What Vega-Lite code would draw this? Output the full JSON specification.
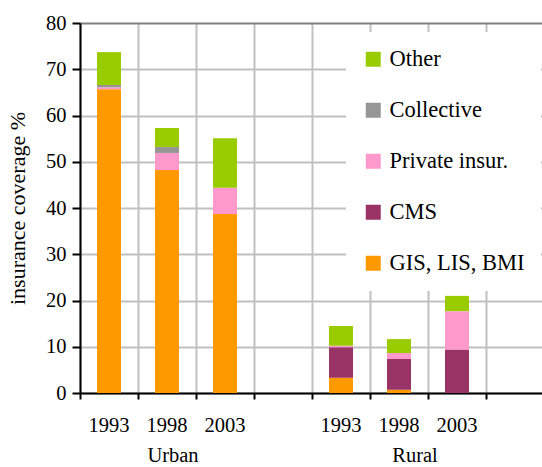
{
  "$schema": "https://vega.github.io/schema/vega-lite/v6.json",
  "autosize": "none",
  "width": 464,
  "height": 370,
  "padding": {"left": 80, "top": 23, "right": 0, "bottom": 74},
  "background": "white",
  "config": {
    "view": {"stroke": null},
    "font": "Liberation Serif"
  },
  "layer": [
    {
      "data": {
        "values": [
          {"slot": "U1993", "type": "GIS, LIS, BMI", "value": 65.7},
          {"slot": "U1993", "type": "Private insur.", "value": 0.4},
          {"slot": "U1993", "type": "Collective", "value": 0.5},
          {"slot": "U1993", "type": "Other", "value": 7.1},
          {"slot": "U1998", "type": "GIS, LIS, BMI", "value": 48.2},
          {"slot": "U1998", "type": "Private insur.", "value": 3.7},
          {"slot": "U1998", "type": "Collective", "value": 1.3},
          {"slot": "U1998", "type": "Other", "value": 4.1},
          {"slot": "U2003", "type": "GIS, LIS, BMI", "value": 38.7},
          {"slot": "U2003", "type": "Private insur.", "value": 5.7},
          {"slot": "U2003", "type": "Other", "value": 10.7},
          {"slot": "R1993", "type": "GIS, LIS, BMI", "value": 3.3},
          {"slot": "R1993", "type": "CMS", "value": 6.6},
          {"slot": "R1993", "type": "Private insur.", "value": 0.3},
          {"slot": "R1993", "type": "Other", "value": 4.3},
          {"slot": "R1998", "type": "GIS, LIS, BMI", "value": 0.7},
          {"slot": "R1998", "type": "CMS", "value": 6.65},
          {"slot": "R1998", "type": "Private insur.", "value": 1.3},
          {"slot": "R1998", "type": "Other", "value": 3.0},
          {"slot": "R2003", "type": "CMS", "value": 9.4},
          {"slot": "R2003", "type": "Private insur.", "value": 8.3},
          {"slot": "R2003", "type": "Other", "value": 3.3}
        ]
      },
      "transform": [
        {"calculate": "indexof(['GIS, LIS, BMI', 'CMS', 'Private insur.', 'Collective', 'Other'], datum.type)", "as": "stackOrder"}
      ],
      "mark": {"type": "bar", "width": {"band": 0.4138}},
      "encoding": {
        "x": {
          "field": "slot",
          "type": "nominal",
          "scale": {
            "domain": ["U1993", "U1998", "U2003", "g1", "R1993", "R1998", "R2003", "g2"],
            "paddingInner": 0,
            "paddingOuter": 0
          },
          "axis": {
            "orient": "bottom",
            "title": null,
            "bandPosition": 0,
            "labelExpr": "datum.value[0] == 'g' ? '' : slice(datum.value, 1)",
            "labelAngle": 0,
            "labelDx": 29,
            "labelPadding": 16,
            "labelFont": "Liberation Serif",
            "labelFontSize": 20.5,
            "labelColor": "black",
            "grid": true,
            "gridColor": "#c0c0c0",
            "gridWidth": 2,
            "domainColor": "black",
            "domainWidth": 2,
            "tickColor": "black",
            "tickWidth": 2,
            "tickSize": 6
          }
        },
        "y": {
          "field": "value",
          "type": "quantitative",
          "stack": "zero",
          "scale": {"domain": [0, 80], "nice": false},
          "axis": {
            "title": "insurance coverage %",
            "titleFont": "Liberation Serif",
            "titleFontSize": 22,
            "titleFontWeight": "normal",
            "titleColor": "black",
            "titlePadding": 16,
            "values": [0, 10, 20, 30, 40, 50, 60, 70, 80],
            "labelFont": "Liberation Serif",
            "labelFontSize": 20.5,
            "labelColor": "black",
            "labelPadding": 6,
            "grid": true,
            "gridColor": {"condition": {"test": "datum.value == 80", "value": "#808080"}, "value": "#c0c0c0"},
            "gridWidth": 2,
            "domainColor": "black",
            "domainWidth": 2,
            "tickColor": "black",
            "tickWidth": 2,
            "tickSize": 8
          }
        },
        "order": {"field": "stackOrder", "type": "quantitative", "sort": "ascending"},
        "color": {
          "field": "type",
          "type": "nominal",
          "scale": {
            "domain": ["Other", "Collective", "Private insur.", "CMS", "GIS, LIS, BMI"],
            "range": ["#99CC00", "#969696", "#FF99CC", "#993366", "#FF9900"]
          },
          "legend": {
            "title": null,
            "orient": "none",
            "legendX": 266,
            "legendY": 9,
            "fillColor": "white",
            "padding": 16,
            "symbolType": "square",
            "symbolSize": 225,
            "symbolStrokeWidth": 0,
            "symbolOpacity": 1,
            "labelFont": "Liberation Serif",
            "labelFontSize": 22.5,
            "labelColor": "black",
            "labelOffset": 5,
            "rowPadding": 28,
            "labelLimit": 200
          }
        }
      }
    },
    {
      "data": {
        "values": [
          {"slot": "U1998", "group": "Urban"},
          {"slot": "R1998", "group": "Rural"}
        ]
      },
      "mark": {"type": "text", "opacity": 0},
      "encoding": {
        "x": {
          "field": "slot",
          "type": "nominal",
          "axis": {
            "orient": "bottom",
            "title": null,
            "labelExpr": "datum.value == 'U1998' ? 'Urban' : datum.value == 'R1998' ? 'Rural' : ''",
            "labelAngle": 0,
            "labelOffset": {"condition": {"test": "datum.value == 'R1998'", "value": 16}, "value": 6},
            "labelPadding": 52,
            "labelFont": "Liberation Serif",
            "labelFontSize": 20.5,
            "labelColor": "black",
            "grid": false,
            "domain": false,
            "ticks": false
          }
        },
        "text": {"field": "group"}
      }
    }
  ],
  "resolve": {"axis": {"x": "independent"}}
}
